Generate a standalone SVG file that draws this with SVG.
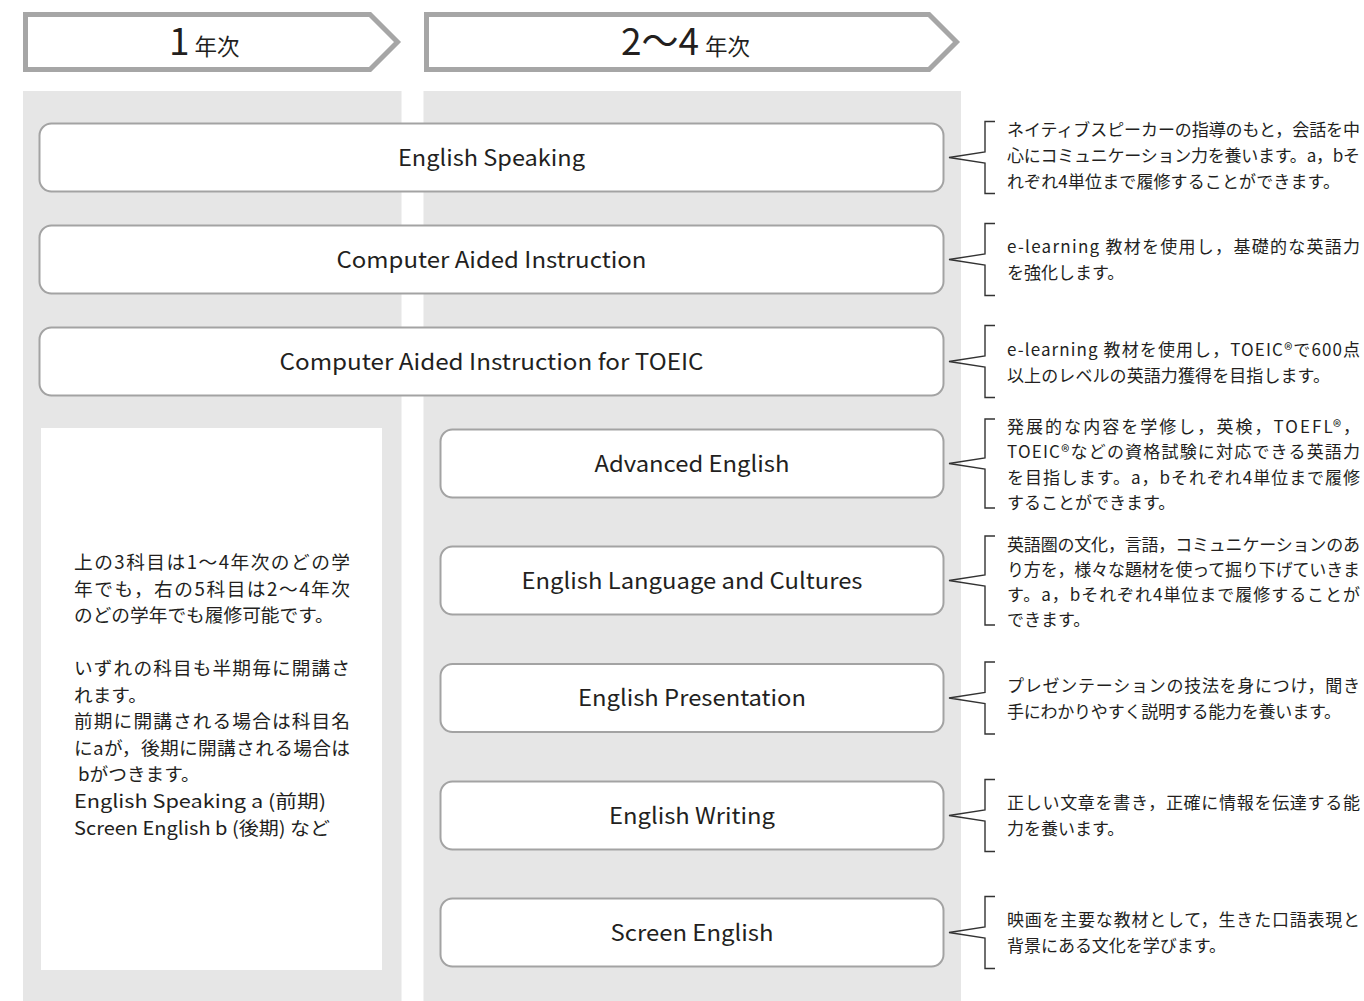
<svg xmlns="http://www.w3.org/2000/svg" width="1364" height="1001" viewBox="0 0 1364 1001">
<style>
text{font-family:"Noto Sans CJK JP","Noto Sans",sans-serif;fill:#231f1e;}
.hdr{fill:#fff;stroke:#a6a6a6;stroke-width:5;}
.panel{fill:#e6e6e6;}
.node{fill:#fff;stroke:#a3a3a3;stroke-width:2;}
.lbl{font-size:22.5px;text-anchor:middle;}
.desc{font-size:17px;}
.note{font-size:18.7px;}
.br{fill:none;stroke:#333;stroke-width:1.4;}
</style>
<rect x="0" y="0" width="1364" height="1001" fill="#fff"/>
<g id="header-1">
<polygon class="hdr" points="25.5,14.5 370,14.5 397.5,42 370,69.5 25.5,69.5"/>
<text x="169" y="55"><tspan font-size="37">1</tspan><tspan font-size="22.5" dx="5">年次</tspan></text>
</g>
<g id="header-2">
<polygon class="hdr" points="426.5,14.5 929,14.5 956.5,42 929,69.5 426.5,69.5"/>
<text x="621" y="55"><tspan font-size="37">2〜4</tspan><tspan font-size="22.5" dx="6">年次</tspan></text>
</g>
<rect class="panel" x="23" y="91" width="378.5" height="910"/>
<rect class="panel" x="423.5" y="91" width="537.5" height="910"/>
<g id="note">
<rect x="41" y="428" width="341" height="542" fill="#fff"/>
<text class="note" x="74" y="569" textLength="276" lengthAdjust="spacing">上の3科目は1〜4年次のどの学</text>
<text class="note" x="74" y="596" textLength="276" lengthAdjust="spacing">年でも，右の5科目は2〜4年次</text>
<text class="note" x="74" y="622">のどの学年でも履修可能です。</text>
<text class="note" x="74" y="675" textLength="276" lengthAdjust="spacing">いずれの科目も半期毎に開講さ</text>
<text class="note" x="74" y="702">れます。</text>
<text class="note" x="74" y="728" textLength="276" lengthAdjust="spacing">前期に開講される場合は科目名</text>
<text class="note" x="74" y="755" textLength="276" lengthAdjust="spacing">にaが，後期に開講される場合は</text>
<text class="note" x="78" y="781">bがつきます。</text>
<text class="note" x="74" y="808" textLength="252" lengthAdjust="spacingAndGlyphs">English Speaking a (前期)</text>
<text class="note" x="74" y="835" textLength="256" lengthAdjust="spacingAndGlyphs">Screen English b (後期) など</text>
</g>
<g id="n1"><rect class="node" x="39.5" y="123.5" width="904" height="68" rx="12"/><text class="lbl" x="491.5" y="165.5" textLength="187" lengthAdjust="spacingAndGlyphs">English Speaking</text></g>
<g id="n2"><rect class="node" x="39.5" y="225.5" width="904" height="68" rx="12"/><text class="lbl" x="491.5" y="267.5" textLength="310" lengthAdjust="spacingAndGlyphs">Computer Aided Instruction</text></g>
<g id="n3"><rect class="node" x="39.5" y="327.5" width="904" height="68" rx="12"/><text class="lbl" x="491.5" y="369.5" textLength="424" lengthAdjust="spacingAndGlyphs">Computer Aided Instruction for TOEIC</text></g>
<g id="n4"><rect class="node" x="440.5" y="429.5" width="503" height="68" rx="12"/><text class="lbl" x="692" y="471.5" textLength="195" lengthAdjust="spacingAndGlyphs">Advanced English</text></g>
<g id="n5"><rect class="node" x="440.5" y="546.5" width="503" height="68" rx="12"/><text class="lbl" x="692" y="588.5" textLength="341" lengthAdjust="spacingAndGlyphs">English Language and Cultures</text></g>
<g id="n6"><rect class="node" x="440.5" y="664" width="503" height="68" rx="12"/><text class="lbl" x="692" y="706" textLength="228" lengthAdjust="spacingAndGlyphs">English Presentation</text></g>
<g id="n7"><rect class="node" x="440.5" y="781.5" width="503" height="68" rx="12"/><text class="lbl" x="692" y="823.5" textLength="166" lengthAdjust="spacingAndGlyphs">English Writing</text></g>
<g id="n8"><rect class="node" x="440.5" y="898.5" width="503" height="68" rx="12"/><text class="lbl" x="692" y="940.5" textLength="163" lengthAdjust="spacingAndGlyphs">Screen English</text></g>
<g id="connectors">
<path class="br" d="M995,121.5H985V152L949,157.5L985,163V193.5H995"/>
<path class="br" d="M995,223.5H985V254L949,259.5L985,265V295.5H995"/>
<path class="br" d="M995,325.5H985V356L949,361.5L985,367V397.5H995"/>
<path class="br" d="M995,419H985V458L949,463.5L985,469V508H995"/>
<path class="br" d="M995,536H985V575L949,580.5L985,586V625H995"/>
<path class="br" d="M995,662H985V692.5L949,698L985,703.5V734H995"/>
<path class="br" d="M995,779.5H985V810L949,815.5L985,821V851.5H995"/>
<path class="br" d="M995,896.5H985V927L949,932.5L985,938V968.5H995"/>
</g>
<g id="descriptions">
<text class="desc" x="1007" y="136" textLength="353" lengthAdjust="spacing">ネイティブスピーカーの指導のもと，会話を中</text>
<text class="desc" x="1007" y="162" textLength="353" lengthAdjust="spacing">心にコミュニケーション力を養います。a，bそ</text>
<text class="desc" x="1007" y="188" textLength="333" lengthAdjust="spacing">れぞれ4単位まで履修することができます。</text>
<text class="desc" x="1007" y="253" textLength="353" lengthAdjust="spacing">e-learning 教材を使用し，基礎的な英語力</text>
<text class="desc" x="1007" y="279">を強化します。</text>
<text class="desc" x="1007" y="356" textLength="353" lengthAdjust="spacing">e-learning 教材を使用し，TOEIC®で600点</text>
<text class="desc" x="1007" y="382" textLength="323" lengthAdjust="spacing">以上のレベルの英語力獲得を目指します。</text>
<text class="desc" x="1007" y="433" textLength="353" lengthAdjust="spacing">発展的な内容を学修し，英検，TOEFL®，</text>
<text class="desc" x="1007" y="458" textLength="353" lengthAdjust="spacing">TOEIC®などの資格試験に対応できる英語力</text>
<text class="desc" x="1007" y="484" textLength="353" lengthAdjust="spacing">を目指します。a，bそれぞれ4単位まで履修</text>
<text class="desc" x="1007" y="509">することができます。</text>
<text class="desc" x="1007" y="551" textLength="353" lengthAdjust="spacing">英語圏の文化，言語，コミュニケーションのあ</text>
<text class="desc" x="1007" y="576" textLength="353" lengthAdjust="spacing">り方を，様々な題材を使って掘り下げていきま</text>
<text class="desc" x="1007" y="601" textLength="353" lengthAdjust="spacing">す。a，bそれぞれ4単位まで履修することが</text>
<text class="desc" x="1007" y="626">できます。</text>
<text class="desc" x="1007" y="692" textLength="353" lengthAdjust="spacing">プレゼンテーションの技法を身につけ，聞き</text>
<text class="desc" x="1007" y="718" textLength="334" lengthAdjust="spacing">手にわかりやすく説明する能力を養います。</text>
<text class="desc" x="1007" y="809" textLength="353" lengthAdjust="spacing">正しい文章を書き，正確に情報を伝達する能</text>
<text class="desc" x="1007" y="835">力を養います。</text>
<text class="desc" x="1007" y="926" textLength="353" lengthAdjust="spacing">映画を主要な教材として，生きた口語表現と</text>
<text class="desc" x="1007" y="952" textLength="219" lengthAdjust="spacing">背景にある文化を学びます。</text>
</g>
</svg>
